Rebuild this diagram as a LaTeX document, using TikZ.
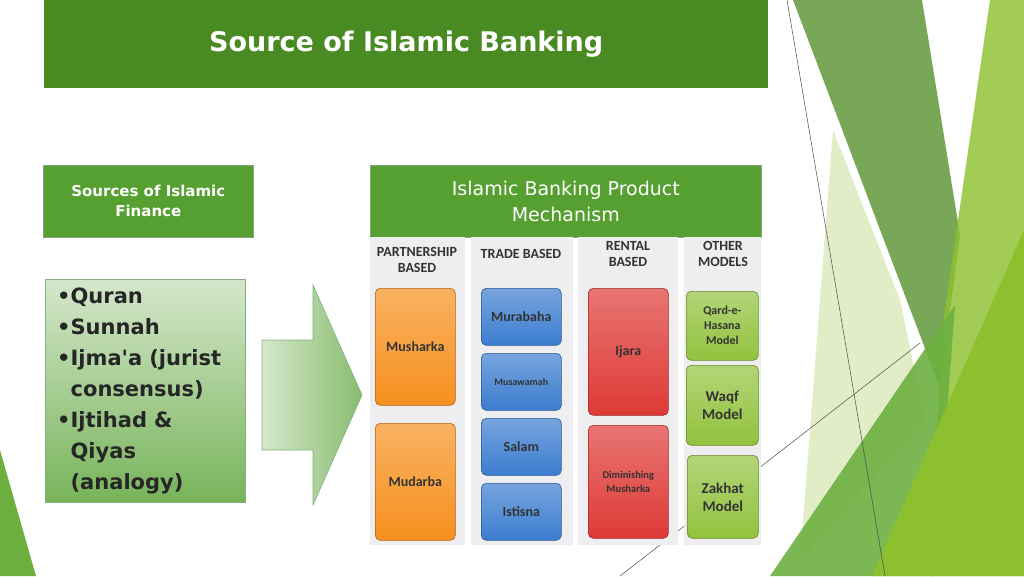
\documentclass[tikz,border=0pt]{standalone}
\usepackage{fontspec}
\setmainfont{Carlito}
\newfontfamily\ttl{DejaVu Sans}
\begin{document}
\begin{tikzpicture}[x=1pt,y=-1pt,
 gbox/.style={draw=green!30!black!50,line width=0.6pt,fill=g2,text=white},
 col/.style={fill=blue!8!gray!12},
 tile/.style={rounded corners=5pt,draw=#1!70!black,line width=0.6pt,top color=#1!70!white,bottom color=#1,font=\bfseries\fontsize{14}{16}\selectfont,text=black!80,align=center},
 hdr/.style={font=\bfseries\fontsize{14}{16}\selectfont,text=black!80,align=center}]
\definecolor{g1}{HTML}{4A8A22}\definecolor{g2}{HTML}{55A030}
\useasboundingbox (0,0) rectangle (1024,576);
\fill[white] (0,0) rectangle (1024,576);
% decoration
\definecolor{dg}{HTML}{6A9E45}\definecolor{bg}{HTML}{8DC02E}\definecolor{lg}{HTML}{D9E9B8}\definecolor{mg}{HTML}{6DB040}
\fill[lg,opacity=0.8] (833,130) -- (900,300) -- (925,420) -- (800,560) -- cycle;
\fill[dg,opacity=0.9] (793,0) -- (922,0) -- (960,235) -- (940,388) -- cycle;
\fill[bg,opacity=0.8] (990,0) -- (1024,0) -- (1024,576) -- (930,576) -- (942,330) -- cycle;
\fill[mg,opacity=0.9] (955,305) -- (935,576) -- (770,576) -- cycle;
\fill[bg] (1024,230) -- (1024,576) -- (872,576) -- cycle;
\fill[mg] (0,450) -- (36,576) -- (0,576) -- cycle;
\coordinate (l1a) at (787,0); \coordinate (l1b) at (885,576);
\coordinate (l2a) at (620,576); \coordinate (l2b) at (920,343);
\draw[black!70,line width=0.5pt] (l1a) -- (l1b);
\draw[black!70,line width=0.5pt] (l2a) -- (l2b);
% title
\node[fill=g1,minimum width=724,minimum height=88,anchor=north west,inner sep=0,text=white,font=\ttl\bfseries\fontsize{27}{30}\selectfont] (title) at (44,0) {Source of Islamic Banking};
\node[gbox,minimum width=210,minimum height=72,anchor=north west,inner sep=0,align=center,font=\ttl\bfseries\fontsize{15}{20}\selectfont] (src) at (43,165) {Sources of Islamic\\Finance};
\node[gbox,minimum width=391,minimum height=72,anchor=north west,inner sep=0,align=center,font=\ttl\fontsize{19}{26}\selectfont] (mech) at (370,165) {Islamic Banking Product\\Mechanism};
\node[draw=green!40!black!50,top color=g2!25,bottom color=g2!80,minimum width=200,minimum height=223,anchor=north west,inner sep=0] (list) at (45,279) {};
\node[anchor=north west,align=left,text=black!85,font=\ttl\bfseries\fontsize{21}{31}\selectfont,text width=195,inner sep=0] (lt) at (57,288) {%
\textbullet Quran\\\textbullet Sunnah\\\textbullet Ijma'a (jurist\\\hphantom{\textbullet}consensus)\\\textbullet Ijtihad \&\\\hphantom{\textbullet}Qiyas\\\hphantom{\textbullet}(analogy)};
% arrow
\draw[draw=green!40!black!50,left color=g2!25,right color=g2!70,line width=0.6pt] (262,340) -- (313,340) -- (313,285) -- (362,395) -- (313,505) -- (313,450) -- (262,450) -- cycle;
% columns
\fill[col] (370,237) rectangle (465,545);
\fill[col] (471,237) rectangle (573,545);
\fill[col] (578,237) rectangle (678,545);
\fill[col] (684,237) rectangle (761,545);
\node[hdr] (h1) at (417,260) {PARTNERSHIP\\BASED};
\node[hdr] (h2) at (521,254) {TRADE BASED};
\node[hdr] (h3) at (628,254) {RENTAL\\BASED};
\node[hdr] (h4) at (723,254) {OTHER\\MODELS};
\definecolor{or}{HTML}{F6901E}\definecolor{bl}{HTML}{3C7DD0}\definecolor{rd}{HTML}{DE3A36}\definecolor{gr}{HTML}{92C23E}
\node[tile=or,minimum width=80,minimum height=117,anchor=north west] (t1) at (375,288) {Musharka};
\node[tile=or,minimum width=80,minimum height=117,anchor=north west] (t2) at (375,423) {Mudarba};
\node[tile=bl,minimum width=80,minimum height=57,anchor=north west] (t3) at (481,288) {Murabaha};
\node[tile=bl,minimum width=80,minimum height=57,anchor=north west,font=\bfseries\fontsize{10}{12}\selectfont] (t4) at (481,353) {Musawamah};
\node[tile=bl,minimum width=80,minimum height=57,anchor=north west] (t5) at (481,418) {Salam};
\node[tile=bl,minimum width=80,minimum height=57,anchor=north west] (t6) at (481,483) {Istisna};
\node[tile=rd,minimum width=80,minimum height=127,anchor=north west] (t7) at (588,288) {Ijara};
\node[tile=rd,minimum width=80,minimum height=113,anchor=north west,font=\bfseries\fontsize{10.5}{14}\selectfont] (t8) at (588,425) {Diminishing\\Musharka};
\node[tile=gr,minimum width=72,minimum height=69,anchor=north west,font=\bfseries\fontsize{12}{15}\selectfont] (t9) at (686,291) {Qard-e-\\Hasana\\Model};
\node[tile=gr,minimum width=72,minimum height=80,anchor=north west,font=\bfseries\fontsize{15}{18}\selectfont] (t10) at (686,365) {Waqf\\Model};
\node[tile=gr,minimum width=71,minimum height=83,anchor=north west,font=\bfseries\fontsize{15}{18}\selectfont] (t11) at (687,455) {Zakhat\\Model};
\end{tikzpicture}
\end{document}
